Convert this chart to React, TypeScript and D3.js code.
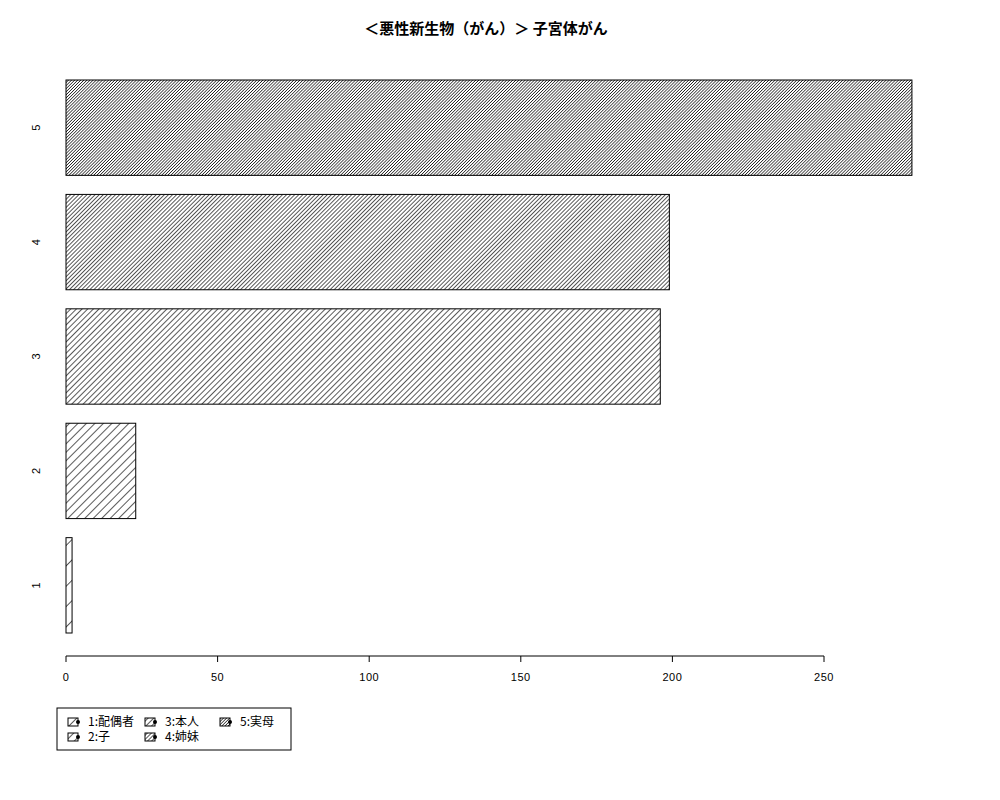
import React from 'react';
import * as d3 from 'd3';

// bar values, bottom (1) to top (5)
const categories = ['1', '2', '3', '4', '5'];
const values = [2, 23, 196, 199, 279];
// hatch density per bar, lines per inch (R style)
const densities = [5, 12, 18, 25, 33];
const legendLabels = ['1:配偶者', '2:子', '3:本人', '4:姉妹', '5:実母'];
const xTicks = [0, 50, 100, 150, 200, 250];
const title = '＜悪性新生物（がん）＞ 子宮体がん';

const W = 1000;
const H = 800;
const font = '"Liberation Sans", Arial, sans-serif';
const cjkFont = '"Noto Sans CJK JP", "Liberation Sans", sans-serif';

export default function App() {
  const x = d3.scaleLinear().domain([0, 250]).range([66, 824]);
  // R barplot units: bar i spans [0.2 + 1.2*i, 1.2*(i+1)]
  const y = d3.scaleLinear().domain([0.2, 6.0]).range([633, 80]);
  const axisY = 656;

  const spacing = (d: number) => 72 / d;

  return (
    <div style={{ position: 'absolute', left: 0, top: 0 }}>
      <svg width={W} height={H} viewBox={`0 0 ${W} ${H}`} style={{ display: 'block', background: '#fff' }}>
        <defs>
          {densities.map((d, i) => {
            const s = spacing(d);
            return (
              <pattern
                key={i}
                id={`hatch${i}`}
                patternUnits="userSpaceOnUse"
                width={s}
                height={s}
                patternTransform="rotate(45)"
              >
                <line x1={0} y1={0} x2={0} y2={s} stroke="#000" strokeWidth={1.3} />
              </pattern>
            );
          })}
        </defs>

        {/* title */}
        <text
          x={486}
          y={34}
          textAnchor="middle"
          fontFamily={cjkFont}
          fontWeight="bold"
          fontSize={15}
          fill="#000"
        >
          {title}
        </text>

        {/* bars */}
        {values.map((v, i) => {
          const y0 = y(0.2 + 1.2 * i);
          const y1 = y(1.2 * (i + 1));
          return (
            <g key={i}>
              <rect x={x(0)} y={y1} width={x(v) - x(0)} height={y0 - y1} fill="#fff" />
              <rect x={x(0)} y={y1} width={x(v) - x(0)} height={y0 - y1} fill={`url(#hatch${i})`} />
              <rect
                x={x(0)}
                y={y1}
                width={x(v) - x(0)}
                height={y0 - y1}
                fill="none"
                stroke="#000"
                strokeWidth={1}
              />
              <text
                transform={`translate(40,${(y0 + y1) / 2}) rotate(-90)`}
                textAnchor="middle"
                fontFamily={font}
                fontSize={11}
                fill="#000"
              >
                {categories[i]}
              </text>
            </g>
          );
        })}

        {/* x axis */}
        <line x1={x(0)} x2={x(250)} y1={axisY} y2={axisY} stroke="#000" strokeWidth={1} />
        {xTicks.map((t) => (
          <g key={t}>
            <line x1={x(t)} x2={x(t)} y1={axisY} y2={axisY + 6} stroke="#000" strokeWidth={1} />
            <text
              x={x(t)}
              y={axisY + 25}
              textAnchor="middle"
              fontFamily={font}
              fontSize={11}
              letterSpacing={0.5}
              fill="#000"
            >
              {t}
            </text>
          </g>
        ))}

        {/* legend */}
        <rect x={57} y={708} width={234} height={42} fill="#fff" stroke="#000" strokeWidth={1} />
        {legendLabels.map((lab, i) => {
          const col = Math.floor(i / 2);
          const row = i % 2;
          const colX = [68, 145, 220][col];
          const cy = 722 + row * 15;
          return (
            <g key={lab}>
              <rect x={colX} y={cy - 4} width={10} height={8} fill="#fff" />
              <rect x={colX} y={cy - 4} width={10} height={8} fill={`url(#hatch${i})`} />
              <rect x={colX} y={cy - 4} width={10} height={8} fill="none" stroke="#000" strokeWidth={1} />
              <circle cx={colX + 10} cy={cy} r={2} fill="#000" />
              <text
                x={colX + 20}
                y={cy + 4}
                fontFamily={cjkFont}
                fontSize={12}
                fill="#000"
              >
                {lab}
              </text>
            </g>
          );
        })}
      </svg>
    </div>
  );
}
